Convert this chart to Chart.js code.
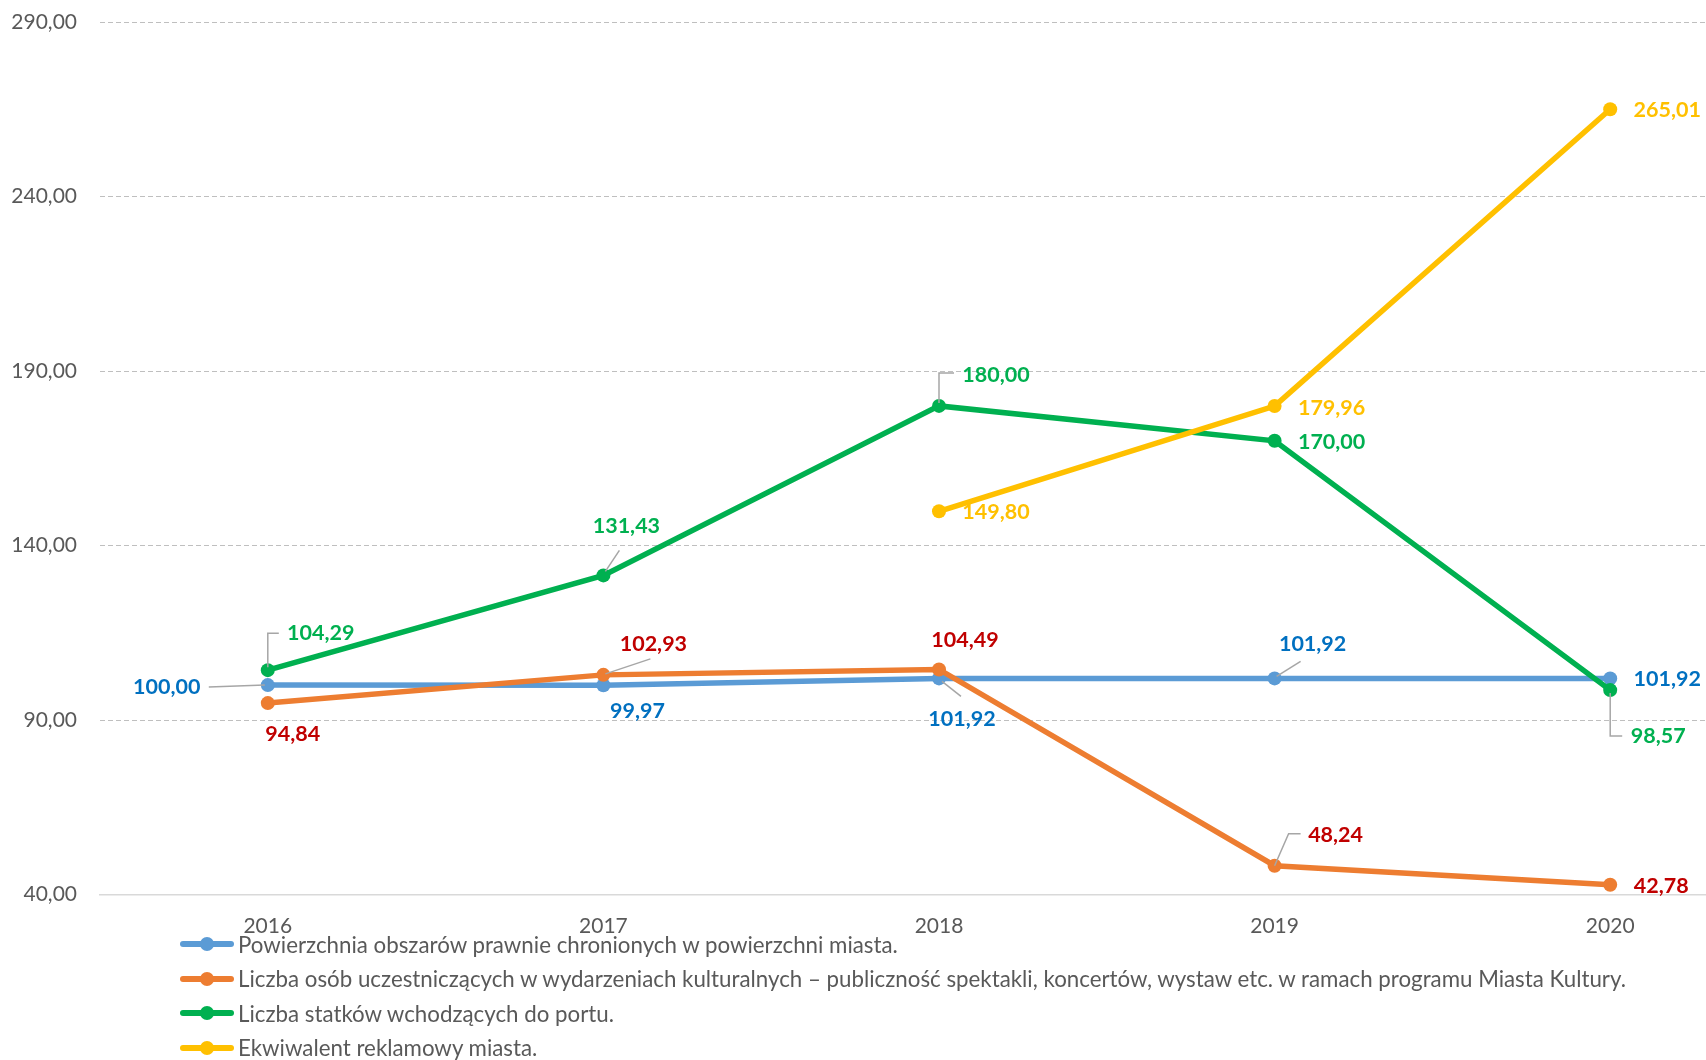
<!DOCTYPE html>
<html>
<head>
<meta charset="utf-8">
<script src="https://cdn.jsdelivr.net/npm/chart.js@4.4.1/dist/chart.umd.min.js"></script>
<style>
  body { margin: 0; background: #fff; overflow: hidden; width: 1706px; height: 1060px; position: relative; }
  #wrap { position: absolute; left: 0; top: 0; }
  #legend { position: absolute; left: 180px; top: 927px; font-family: Lato, sans-serif; font-size: 22.3px; color: #595959; }
  .item { height: 34.5px; display: flex; align-items: center; white-space: nowrap; }
  .mark { position: relative; width: 54px; height: 14px; margin-right: 4px; }
  .mark .ln { position: absolute; left: 0; top: 4px; width: 54px; height: 6px; border-radius: 3px; }
  .mark .dt { position: absolute; left: 20px; top: 0; width: 14px; height: 14px; border-radius: 50%; }
</style>
</head>
<body>
<div id="wrap"><canvas id="myChart" width="1785" height="960"></canvas></div>
<div id="legend"></div>
<script>
var years = ['2016', '2017', '2018', '2019', '2020'];
var obszary = [100.00, 99.97, 101.92, 101.92, 101.92];
var kultura = [94.84, 102.93, 104.49, 48.24, 42.78];
var statki = [104.29, 131.43, 180.00, 170.00, 98.57];
var reklama = [null, null, 149.80, 179.96, 265.01];
var yTicks = [40, 90, 140, 190, 240, 290];

var names = [
    'Powierzchnia obszarów prawnie chronionych w powierzchni miasta.',
    'Liczba osób uczestniczących w wydarzeniach kulturalnych – publiczność spektakli, koncertów, wystaw etc. w ramach programu Miasta Kultury.',
    'Liczba statków wchodzących do portu.',
    'Ekwiwalent reklamowy miasta.'
];
var lineColors = ['#5B9BD5', '#ED7D31', '#00B050', '#FFC000'];
var labelColors = ['#0070C0', '#C00000', '#00B050', '#FFC000'];

// label offsets from the point (px) and leader lines, per dataset / point
var labelPos = [
    [{dx: -101, dy: 2, lead: [[-3, 0], [-59, 2]]}, {dx: 34, dy: 26}, {dx: 23, dy: 41, lead: [[3, 3], [22, 18]]}, {dx: 38, dy: -34, lead: [[2, -2], [26, -17]]}, {dx: 57, dy: 1}],
    [{dx: 25, dy: 31}, {dx: 50, dy: -31, lead: [[2, -1], [47, -16]]}, {dx: 26, dy: -29}, {dx: 61, dy: -31, lead: [[0, 0], [14, -32], [26, -32]]}, {dx: 51, dy: 1}],
    [{dx: 53, dy: -37, lead: [[0, -3], [0, -37], [11, -37]]}, {dx: 23, dy: -49, lead: [[2, -4], [16, -25]]}, {dx: 57, dy: -31, lead: [[0, -3], [0, -33], [15, -33]]}, {dx: 57, dy: 1}, {dx: 48, dy: 46, lead: [[0, 3], [0, 46], [12, 46]]}],
    [null, null, {dx: 57, dy: 1}, {dx: 57, dy: 2}, {dx: 57, dy: 1}]
];

function fmt(v) {
    return v.toFixed(2).replace('.', ',');
}

var dataLabels = {
    id: 'dataLabels',
    afterDatasetsDraw: function(chart) {
        var c = chart.ctx;
        c.save();
        chart.data.datasets.forEach(function(ds, i) {
            var meta = chart.getDatasetMeta(i);
            meta.data.forEach(function(pt, j) {
                var v = ds.data[j];
                var p = labelPos[i][j];
                if (v === null || !p) return;
                if (p.lead) {
                    c.strokeStyle = '#A6A6A6';
                    c.lineWidth = 1.5;
                    c.beginPath();
                    p.lead.forEach(function(q, k) {
                        if (k === 0) c.moveTo(pt.x + q[0], pt.y + q[1]);
                        else c.lineTo(pt.x + q[0], pt.y + q[1]);
                    });
                    c.stroke();
                }
                c.fillStyle = labelColors[i];
                c.font = 'bold 21.5px Lato';
                c.textAlign = 'center';
                c.textBaseline = 'middle';
                c.fillText(fmt(v), pt.x + p.dx, pt.y + p.dy);
            });
        });
        c.restore();
    }
};

var series = [obszary, kultura, statki, reklama];
var ctx = document.getElementById('myChart').getContext('2d');
var myChart = new Chart(ctx, {
    type: 'line',
    data: {
        labels: years,
        datasets: series.map(function(d, i) {
            return {
                label: names[i],
                data: d,
                borderColor: lineColors[i],
                backgroundColor: lineColors[i],
                borderWidth: 5.5,
                pointRadius: 7,
                pointBorderWidth: 0,
                pointHoverRadius: 7,
                tension: 0,
                order: 4 - i
            };
        })
    },
    options: {
        responsive: false,
        animation: false,
        layout: {padding: {left: 11, top: 22, right: 2, bottom: 0}},
        plugins: {
            legend: {display: false},
            tooltip: {enabled: false}
        },
        scales: {
            x: {
                offset: true,
                grid: {display: false, drawTicks: false},
                border: {display: true, color: '#D9D9D9', width: 1.5},
                ticks: {color: '#595959', font: {family: 'Lato', size: 21}, padding: 19},
                afterFit: function(s) { s.height = 65.5; }
            },
            y: {
                min: 40,
                max: 290,
                afterBuildTicks: function(s) {
                    s.ticks = yTicks.map(function(v) { return {value: v}; });
                },
                grid: {color: '#BFBFBF', lineWidth: 1, drawTicks: false},
                border: {display: false, dash: [5, 3]},
                ticks: {
                    color: '#595959',
                    font: {family: 'Lato', size: 21},
                    padding: 23,
                    callback: function(v) { return fmt(v); }
                },
                afterFit: function(s) {
                    s.width = 89;
                    s.paddingTop = 0;
                    s.paddingBottom = 0;
                }
            }
        }
    },
    plugins: [dataLabels]
});

var leg = document.getElementById('legend');
names.forEach(function(n, i) {
    var row = document.createElement('div');
    row.className = 'item';
    row.innerHTML = '<span class="mark"><span class="ln" style="background:' + lineColors[i] +
        '"></span><span class="dt" style="background:' + lineColors[i] + '"></span></span><span>' + n + '</span>';
    leg.appendChild(row);
});
</script>
</body>
</html>
